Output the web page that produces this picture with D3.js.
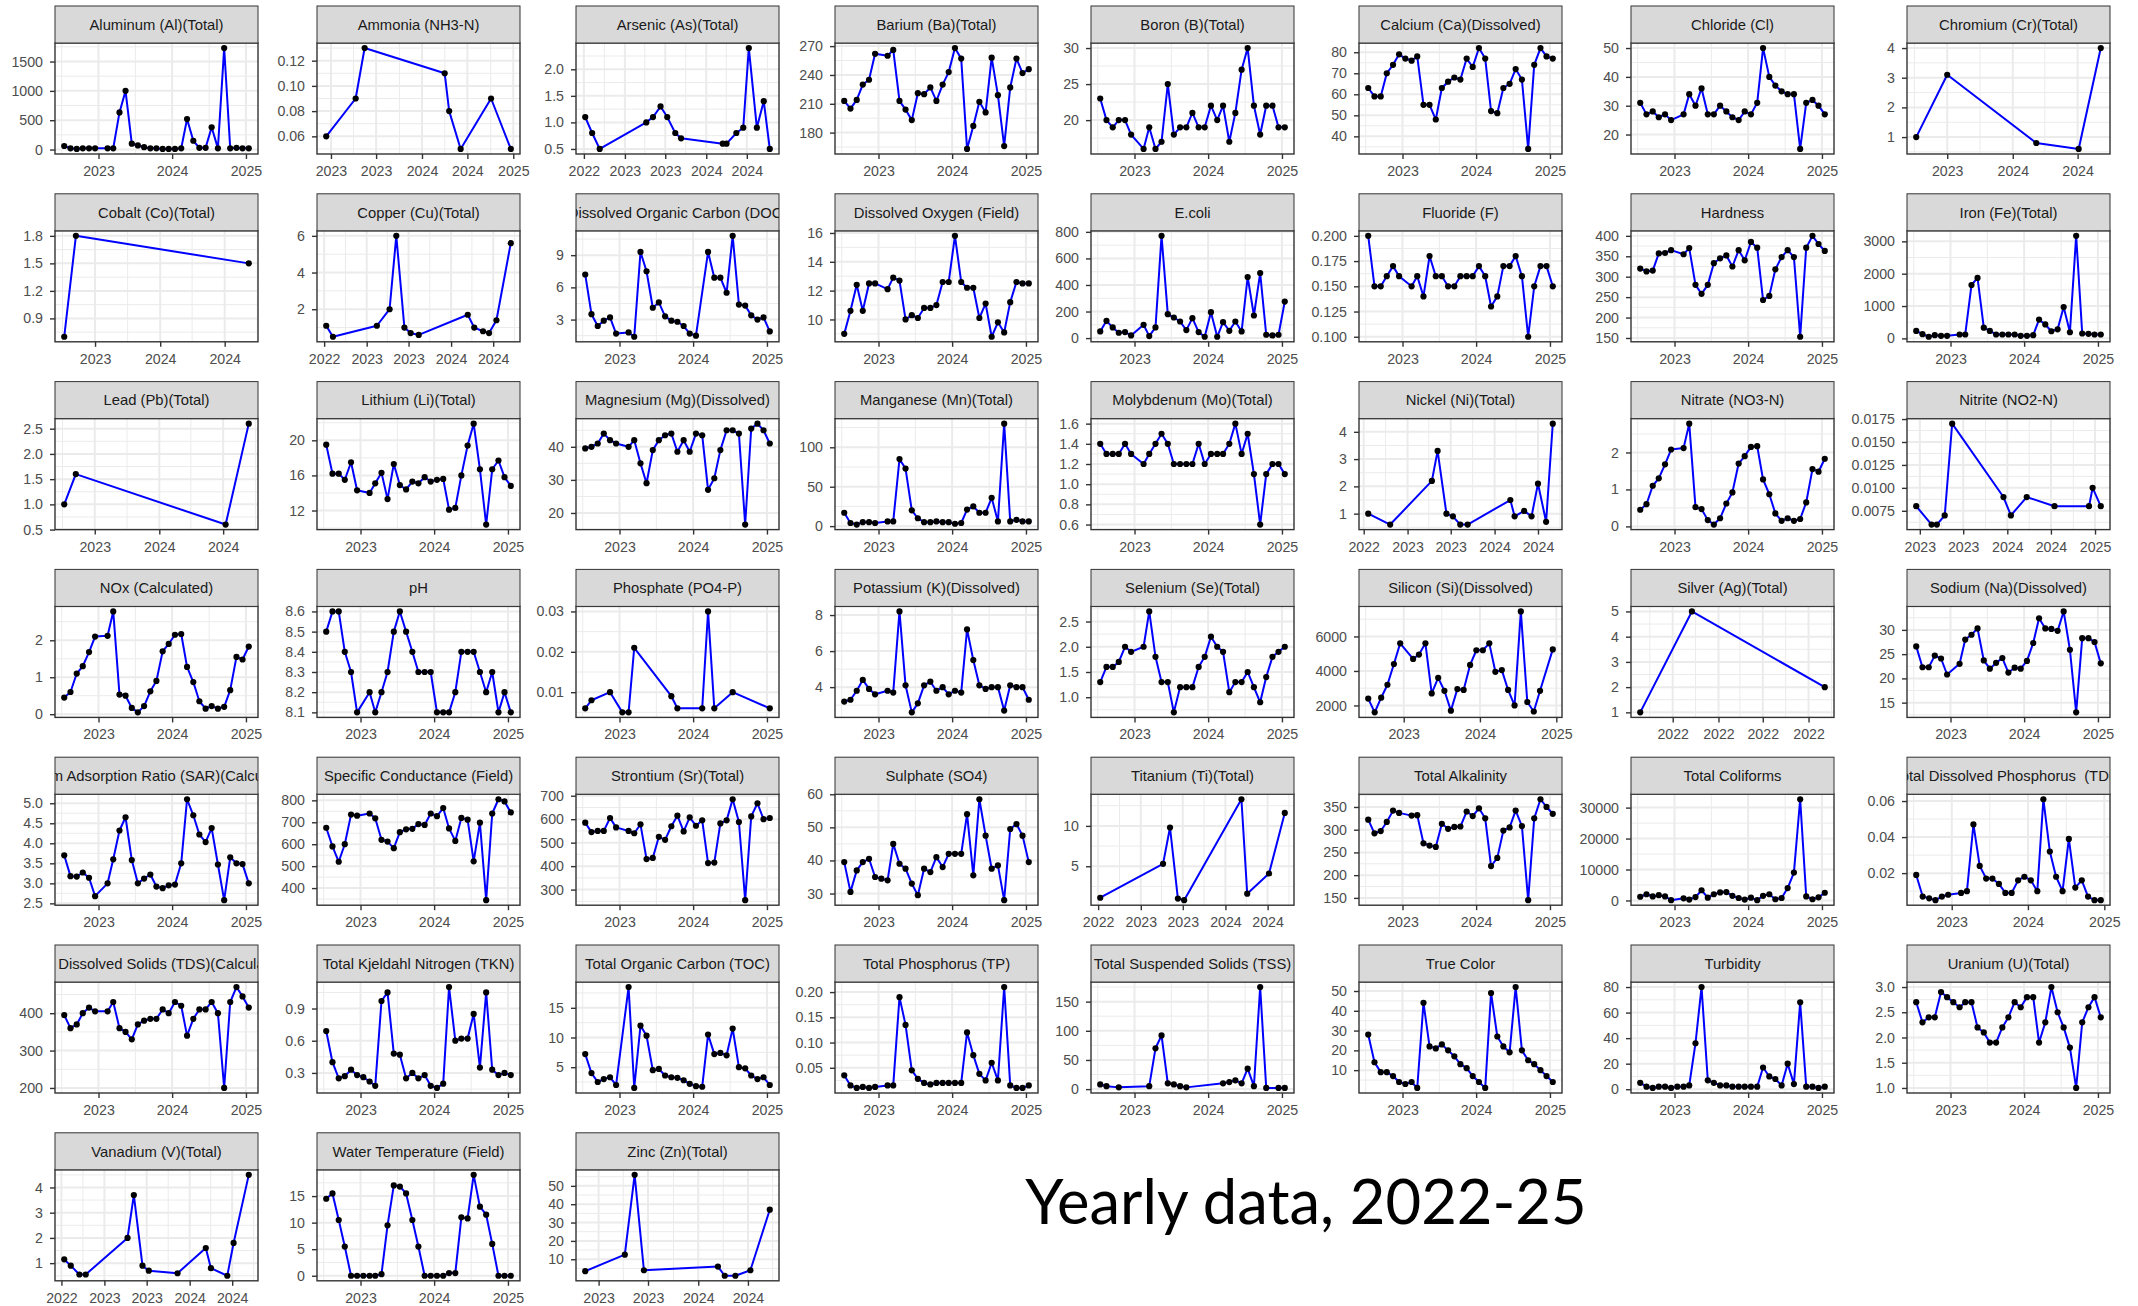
<!DOCTYPE html>
<html>
<head>
<meta charset="utf-8">
<script src="https://cdn.jsdelivr.net/npm/d3@7"></script>
<style>
  body { margin: 0; background: #fff; }
  svg { display: block; }
  .strip-text { white-space: pre; }
</style>
</head>
<body>
<svg id="chart" width="2138" height="1306"></svg>
<script>
// ---- sampling months (mid-month) shared by the regularly sampled series ----
const sampleMonths = ['2022-07','2022-08','2022-09','2022-10','2022-11','2022-12',
  '2023-01','2023-02','2023-03','2023-04','2023-05','2023-06','2023-07','2023-08','2023-09','2023-10','2023-11','2023-12',
  '2024-01','2024-02','2024-03','2024-04','2024-05','2024-06','2024-07','2024-08','2024-09','2024-10','2024-11','2024-12',
  '2025-01'];

// ---- monthly series (null = no sample that month) ----
const aluminum = [60,20,10,20,20,20,null,20,20,633,1000,100,70,40,20,20,10,10,10,20,520,150,30,30,380,20,1730,20,30,20,20];
const barium = [213,205,214,230,235,262,null,260,266,213,204,193,221,220,227,213,230,243,268,257,163,187,212,201,258,219,166,227,257,242,246];
const boron = [23,20,19,20,20,18,null,16,19,16,17,25,18,19,19,21,19,19,22,20,22,17,21,27,30,22,18,22,22,19,19];
const calcium = [63,59,59,70,74,79,77,76,78,55,55,48,63,66,68,67,77,73,82,77,52,51,63,65,72,67,34,74,82,78,77];
const chloride = [31,27,28,26,27,25,null,27,34,30,36,27,27,30,28,26,25,28,27,31,50,40,37,35,34,34,15,31,32,30,27];
const doc = [7.2,3.5,2.4,2.9,3.2,1.7,null,1.8,1.4,9.3,7.5,4.1,4.6,3.3,2.9,2.8,2.4,1.7,1.5,null,9.3,6.9,6.9,5.5,10.8,4.4,4.3,3.4,3.0,3.2,1.9];
const oxygen = [9.0,10.6,12.4,10.6,12.5,12.5,null,12.1,12.9,12.7,10.0,10.3,10.1,10.8,10.8,11.0,12.6,12.6,15.8,12.6,12.2,12.2,10.1,11.1,8.8,9.8,9.1,11.2,12.6,12.5,12.5];
const ecoli = [50,130,80,40,45,20,null,100,15,80,770,180,155,125,60,150,45,10,195,10,120,55,125,50,460,170,490,25,20,25,275];
const fluoride = [0.20,0.15,0.15,0.16,0.17,0.16,null,0.15,0.16,0.14,0.18,0.16,0.16,0.15,0.15,0.16,0.16,0.16,0.17,0.16,0.13,0.14,0.17,0.17,0.18,0.16,0.10,0.15,0.17,0.17,0.15];
const hardness = [320,313,315,357,358,365,null,355,370,280,258,280,333,345,352,325,365,340,385,371,243,253,318,348,365,348,153,371,400,380,363];
const iron = [230,130,50,100,80,80,null,120,120,1650,1870,330,230,120,120,120,120,80,80,100,580,430,220,280,970,190,3170,150,140,120,120];
const lithium = [19.5,16.2,16.2,15.5,17.5,14.3,null,14.0,15.1,16.3,13.3,17.3,14.9,14.4,15.3,15.1,15.8,15.3,15.5,15.6,12.1,12.3,16.0,19.4,21.9,16.7,10.4,16.7,17.7,15.8,14.8];
const magnesium = [39.5,40,41,44,42,41,null,40,42,35,29,39,42,43.5,44,38.5,42,38.5,44,43.5,27,30.5,39,45,45,44,16.5,45.5,47,45,41];
const manganese = [17,4,2,5,5,4,null,6,6,85,73,20,10,5,5,6,5,5,3,4,21,25,17,17,36,6,130,6,8,6,6];
const molybdenum = [1.4,1.3,1.3,1.3,1.4,1.3,null,1.2,1.3,1.4,1.5,1.4,1.2,1.2,1.2,1.2,1.4,1.2,1.3,1.3,1.3,1.4,1.6,1.3,1.5,1.1,0.6,1.1,1.2,1.2,1.1];
const nitrate = [0.45,0.6,1.1,1.3,1.68,2.08,null,2.12,2.78,0.52,0.47,0.17,0.05,0.22,0.62,0.92,1.7,1.9,2.15,2.17,1.27,0.87,0.35,0.15,0.22,0.15,0.2,0.65,1.55,1.48,1.83];
const nox = [0.45,0.6,1.1,1.3,1.68,2.1,null,2.12,2.78,0.53,0.5,0.17,0.05,0.22,0.62,0.9,1.7,1.9,2.15,2.17,1.28,0.87,0.35,0.15,0.22,0.15,0.2,0.65,1.55,1.48,1.83];
const ph = [8.5,8.6,8.6,8.4,8.3,8.1,null,8.2,8.1,8.2,8.3,8.5,8.6,8.5,8.4,8.3,8.3,8.3,8.1,8.1,8.1,8.2,8.4,8.4,8.4,8.3,8.2,8.3,8.1,8.2,8.1];
const phosphate = [0.006,0.008,null,null,0.010,null,0.005,0.005,0.021,null,null,null,null,null,0.009,0.006,null,null,null,0.006,0.030,0.006,null,null,0.010,null,null,null,null,null,0.006];
const potassium = [3.2,3.3,3.8,4.4,3.9,3.6,null,3.8,3.7,8.2,4.1,2.6,3.1,4.1,4.3,3.8,4.0,3.6,3.8,3.7,7.2,5.5,4.1,3.9,4.0,4.0,2.7,4.1,4.0,4.0,3.3];
const selenium = [1.3,1.6,1.6,1.7,2.0,1.9,null,2.0,2.7,1.8,1.3,1.3,0.7,1.2,1.2,1.2,1.6,1.8,2.2,2.0,1.9,1.1,1.3,1.3,1.5,1.2,0.9,1.4,1.8,1.9,2.0];
const silicon = [2400,1600,2450,3200,4400,5600,null,4700,4950,5600,2700,3600,2850,1700,2950,2900,4350,5200,5200,5600,3950,4050,2900,2000,7450,2200,1650,2850,null,5250,null];
const sodium = [26.6,22.3,22.3,24.7,24.1,20.8,null,23.0,28.0,29.0,30.3,23.7,22.0,23.2,24.2,21.2,22.2,22.0,23.6,27.3,32.4,30.3,30.2,29.8,33.8,25.9,13.0,28.3,28.3,27.5,23.1];
const sar = [3.7,3.18,3.17,3.27,3.14,2.68,null,3.0,3.6,4.32,4.65,3.58,3.0,3.12,3.22,2.92,2.88,2.95,2.97,3.5,5.1,4.7,4.22,4.03,4.38,3.47,2.58,3.65,3.5,3.48,3.0];
const conductance = [675,590,520,600,735,730,null,740,718,620,612,582,655,668,670,692,688,740,728,765,672,615,720,712,522,698,345,740,805,795,745];
const strontium = [585,545,550,550,605,565,null,550,540,578,430,435,525,512,570,615,548,608,572,595,413,415,582,595,685,588,255,612,668,600,605];
const sulphate = [39.5,30.5,37,39.5,40.5,35,34.5,34,45,39,37.5,33,29.5,37.5,36.5,41,38,42,42,42,54,35.5,58.5,47.5,37.5,38.5,28,49.5,51,47.5,39.5];
const alkalinity = [322,292,297,317,342,337,null,331,332,270,265,262,313,302,306,307,340,330,347,325,220,238,298,305,342,308,145,325,367,350,335];
const coliforms = [1200,2000,1300,1700,1300,100,null,700,300,1100,3300,900,2000,2600,2700,1500,800,300,900,100,1500,2000,400,800,4000,9000,32700,1300,400,1000,2500];
const tdp = [0.019,0.007,0.006,0.005,0.007,0.008,null,0.009,0.010,0.047,0.024,0.017,0.017,0.014,0.009,0.009,0.016,0.018,0.016,0.010,0.061,0.032,0.018,0.010,0.039,0.012,0.016,0.007,0.005,0.005,null];
const tds = [395,360,370,400,415,405,null,405,430,360,350,330,370,380,385,385,410,400,430,420,340,385,410,410,430,400,200,430,470,445,415];
const tkn = [0.69,0.4,0.25,0.27,0.33,0.28,0.26,0.22,0.18,0.97,1.05,0.48,0.47,0.25,0.3,0.25,0.28,0.18,0.16,0.2,1.1,0.6,0.62,0.62,0.85,0.35,1.05,0.33,0.28,0.3,0.28];
const toc = [7.2,4.0,2.5,3.0,3.3,2.0,null,18.5,1.5,12.0,10.3,4.5,4.7,3.6,3.3,3.2,2.8,2.2,1.8,1.7,10.5,7.2,7.4,7.0,11.5,5.0,4.8,3.6,3.0,3.3,2.0];
const tp = [0.035,0.015,0.01,0.012,0.01,0.012,null,0.015,0.015,0.19,0.135,0.045,0.028,0.02,0.017,0.02,0.02,0.02,0.02,0.02,0.12,0.075,0.038,0.025,0.06,0.025,0.21,0.015,0.01,0.01,0.015];
const tss = [8,5,null,3,null,null,null,null,5,70,92,10,8,5,3,null,null,null,null,null,10,12,15,10,35,5,175,2,null,2,2];
const trueColor = [28,14,9,9,7,4,3,4,1,44,22,21,23,20,17,13,11,7,4,1,49,27,22,19,52,20,15,13,10,7,4];
const turbidity = [5,2,1,2,2,1,2,2,3,36,80,7,5,3,3,2,2,2,2,2,17,10,8,3,20,4,68,2,2,1,2];
const uranium = [2.7,2.3,2.4,2.4,2.9,2.8,2.7,2.6,2.7,2.7,2.2,2.1,1.9,1.9,2.2,2.4,2.7,2.6,2.8,2.8,1.9,2.3,3.0,2.5,2.2,1.8,1.0,2.3,2.6,2.8,2.4];
const waterTemp = [14.5,15.5,10.5,5.5,0,0,0,0,0,0.3,9.5,17,16.8,15.5,10.5,5.5,0,0,0,0,0.5,0.5,11,10.8,19,13,11.5,6,0,0,0];

// ---- irregularly sampled series (own dates) ----
const ammoniaDates = ['2022-12-13','2023-04-10','2023-05-16','2024-04-01','2024-04-19','2024-06-04','2024-10-04','2024-12-22'];
const ammonia = [0.06,0.09,0.13,0.11,0.08,0.05,0.09,0.05];
const arsenicDates = ['2022-07-07','2022-08-07','2022-09-10','2023-04-07','2023-05-07','2023-06-10','2023-07-10','2023-08-15','2023-09-10','2024-03-15','2024-04-01','2024-05-15','2024-06-15','2024-07-10','2024-08-15','2024-09-15','2024-10-12'];
const arsenic = [1.1,0.8,0.5,1.0,1.1,1.3,1.1,0.8,0.7,0.6,0.6,0.8,0.9,2.4,0.9,1.4,0.5];
const chromiumDates = ['2023-04-05','2023-07-01','2024-03-07','2024-07-04','2024-09-04'];
const chromium = [1.0,3.1,0.8,0.6,4.0];
const cobaltDates = ['2023-04-05','2023-05-08','2024-09-07'];
const cobalt = [0.7,1.8,1.5];
const copperDates = ['2022-07-10','2022-08-08','2023-02-14','2023-04-10','2023-05-09','2023-06-13','2023-07-10','2023-08-14','2024-03-13','2024-04-10','2024-05-18','2024-06-13','2024-07-15','2024-09-15'];
const copper = [1.1,0.5,1.1,2.0,6.0,1.0,0.7,0.6,1.7,1.0,0.8,0.7,1.4,5.6];
const leadDates = ['2023-04-05','2023-05-08','2024-07-08','2024-09-12'];
const lead = [1.0,1.6,0.6,2.6];
const nickelDates = ['2022-07-20','2022-10-20','2023-04-13','2023-05-07','2023-06-13','2023-07-10','2023-08-10','2023-09-10','2024-03-07','2024-03-25','2024-05-04','2024-06-04','2024-07-01','2024-08-04','2024-09-01'];
const nickel = [1.0,0.6,2.2,3.3,1.0,0.9,0.6,0.6,1.5,0.9,1.1,0.9,2.1,0.7,4.3];
const nitriteDates = ['2022-12-17','2023-02-19','2023-03-13','2023-04-15','2023-05-16','2023-12-16','2024-01-16','2024-03-22','2024-07-16','2024-12-07','2024-12-22','2025-01-25'];
const nitrite = [0.008,0.006,0.006,0.007,0.017,0.009,0.007,0.009,0.008,0.008,0.010,0.008];
const silverDates = ['2022-07-10','2022-08-14','2022-11-12'];
const silver = [1,5,2];
const titaniumDates = ['2022-07-10','2023-04-07','2023-05-07','2023-06-10','2023-07-07','2024-03-10','2024-04-04','2024-07-07','2024-09-13'];
const titanium = [1.1,5.3,9.8,1.0,0.8,13.3,1.6,4.1,11.6];
const vanadiumDates = ['2022-07-13','2022-08-10','2022-09-16','2022-10-13','2023-04-10','2023-05-07','2023-06-13','2023-07-10','2023-11-10','2024-03-10','2024-04-01','2024-06-10','2024-07-07','2024-09-10'];
const vanadium = [1.15,0.9,0.55,0.55,2.0,3.7,0.9,0.7,0.6,1.6,0.8,0.5,1.8,4.5];
const zincDates = ['2022-11-13','2023-04-07','2023-05-13','2023-06-16','2024-03-13','2024-04-07','2024-05-16','2024-07-10','2024-09-19'];
const zinc = [3.5,12.5,56,4,6,1,1,4,37];

// ---- y tick labels per panel ----
const aluminumTicks = ['0','500','1000','1500'];
const ammoniaTicks = ['0.06','0.08','0.10','0.12'];
const arsenicTicks = ['0.5','1.0','1.5','2.0'];
const bariumTicks = ['180','210','240','270'];
const boronTicks = ['20','25','30'];
const calciumTicks = ['40','50','60','70','80'];
const chlorideTicks = ['20','30','40','50'];
const chromiumTicks = ['1','2','3','4'];
const cobaltTicks = ['0.9','1.2','1.5','1.8'];
const copperTicks = ['2','4','6'];
const docTicks = ['3','6','9'];
const oxygenTicks = ['10','12','14','16'];
const ecoliTicks = ['0','200','400','600','800'];
const fluorideTicks = ['0.100','0.125','0.150','0.175','0.200'];
const hardnessTicks = ['150','200','250','300','350','400'];
const ironTicks = ['0','1000','2000','3000'];
const leadTicks = ['0.5','1.0','1.5','2.0','2.5'];
const lithiumTicks = ['12','16','20'];
const magnesiumTicks = ['20','30','40'];
const manganeseTicks = ['0','50','100'];
const molybdenumTicks = ['0.6','0.8','1.0','1.2','1.4','1.6'];
const nickelTicks = ['1','2','3','4'];
const nitrateTicks = ['0','1','2'];
const nitriteTicks = ['0.0075','0.0100','0.0125','0.0150','0.0175'];
const noxTicks = ['0','1','2'];
const phTicks = ['8.1','8.2','8.3','8.4','8.5','8.6'];
const phosphateTicks = ['0.01','0.02','0.03'];
const potassiumTicks = ['4','6','8'];
const seleniumTicks = ['1.0','1.5','2.0','2.5'];
const siliconTicks = ['2000','4000','6000'];
const silverTicks = ['1','2','3','4','5'];
const sodiumTicks = ['15','20','25','30'];
const sarTicks = ['2.5','3.0','3.5','4.0','4.5','5.0'];
const conductanceTicks = ['400','500','600','700','800'];
const strontiumTicks = ['300','400','500','600','700'];
const sulphateTicks = ['30','40','50','60'];
const titaniumTicks = ['5','10'];
const alkalinityTicks = ['150','200','250','300','350'];
const coliformsTicks = ['0','10000','20000','30000'];
const tdpTicks = ['0.02','0.04','0.06'];
const tdsTicks = ['200','300','400'];
const tknTicks = ['0.3','0.6','0.9'];
const tocTicks = ['5','10','15'];
const tpTicks = ['0.05','0.10','0.15','0.20'];
const tssTicks = ['0','50','100','150'];
const trueColorTicks = ['10','20','30','40','50'];
const turbidityTicks = ['0','20','40','60','80'];
const uraniumTicks = ['1.0','1.5','2.0','2.5','3.0'];
const vanadiumTicks = ['1','2','3','4'];
const waterTempTicks = ['0','5','10','15'];
const zincTicks = ['10','20','30','40','50'];

const panelNames = [
  'Aluminum (Al)(Total)','Ammonia (NH3-N)','Arsenic (As)(Total)','Barium (Ba)(Total)','Boron (B)(Total)','Calcium (Ca)(Dissolved)','Chloride (Cl)','Chromium (Cr)(Total)',
  'Cobalt (Co)(Total)','Copper (Cu)(Total)','Dissolved Organic Carbon (DOC)','Dissolved Oxygen (Field)','E.coli','Fluoride (F)','Hardness','Iron (Fe)(Total)',
  'Lead (Pb)(Total)','Lithium (Li)(Total)','Magnesium (Mg)(Dissolved)','Manganese (Mn)(Total)','Molybdenum (Mo)(Total)','Nickel (Ni)(Total)','Nitrate (NO3-N)','Nitrite (NO2-N)',
  'NOx (Calculated)','pH','Phosphate (PO4-P)','Potassium (K)(Dissolved)','Selenium (Se)(Total)','Silicon (Si)(Dissolved)','Silver (Ag)(Total)','Sodium (Na)(Dissolved)',
  'Sodium Adsorption Ratio (SAR)(Calculated)','Specific Conductance (Field)','Strontium (Sr)(Total)','Sulphate (SO4)','Titanium (Ti)(Total)','Total Alkalinity','Total Coliforms','Total Dissolved Phosphorus  (TDP)',
  'Total Dissolved Solids (TDS)(Calculated)','Total Kjeldahl Nitrogen (TKN)','Total Organic Carbon (TOC)','Total Phosphorus (TP)','Total Suspended Solids (TSS)','True Color','Turbidity','Uranium (U)(Total)',
  'Vanadium (V)(Total)','Water Temperature (Field)','Zinc (Zn)(Total)'
];

// panel table built from the arrays above (step: x break spacing)
const panels = [
  {v: aluminum, t: aluminumTicks}, {v: ammonia, d: ammoniaDates, t: ammoniaTicks, step: 'half'},
  {v: arsenic, d: arsenicDates, t: arsenicTicks, step: 'half'}, {v: barium, t: bariumTicks},
  {v: boron, t: boronTicks}, {v: calcium, t: calciumTicks}, {v: chloride, t: chlorideTicks},
  {v: chromium, d: chromiumDates, t: chromiumTicks, step: 'half'},
  {v: cobalt, d: cobaltDates, t: cobaltTicks, step: 'half'}, {v: copper, d: copperDates, t: copperTicks, step: 'half'},
  {v: doc, t: docTicks}, {v: oxygen, t: oxygenTicks}, {v: ecoli, t: ecoliTicks}, {v: fluoride, t: fluorideTicks},
  {v: hardness, t: hardnessTicks}, {v: iron, t: ironTicks},
  {v: lead, d: leadDates, t: leadTicks, step: 'half'}, {v: lithium, t: lithiumTicks}, {v: magnesium, t: magnesiumTicks},
  {v: manganese, t: manganeseTicks}, {v: molybdenum, t: molybdenumTicks}, {v: nickel, d: nickelDates, t: nickelTicks, step: 'half'},
  {v: nitrate, t: nitrateTicks}, {v: nitrite, d: nitriteDates, t: nitriteTicks, step: 'half'},
  {v: nox, t: noxTicks}, {v: ph, t: phTicks}, {v: phosphate, t: phosphateTicks}, {v: potassium, t: potassiumTicks},
  {v: selenium, t: seleniumTicks}, {v: silicon, t: siliconTicks}, {v: silver, d: silverDates, t: silverTicks, step: 'month'},
  {v: sodium, t: sodiumTicks},
  {v: sar, t: sarTicks}, {v: conductance, t: conductanceTicks}, {v: strontium, t: strontiumTicks}, {v: sulphate, t: sulphateTicks},
  {v: titanium, d: titaniumDates, t: titaniumTicks, step: 'half'}, {v: alkalinity, t: alkalinityTicks},
  {v: coliforms, t: coliformsTicks}, {v: tdp, t: tdpTicks},
  {v: tds, t: tdsTicks}, {v: tkn, t: tknTicks}, {v: toc, t: tocTicks}, {v: tp, t: tpTicks}, {v: tss, t: tssTicks},
  {v: trueColor, t: trueColorTicks}, {v: turbidity, t: turbidityTicks}, {v: uranium, t: uraniumTicks},
  {v: vanadium, d: vanadiumDates, t: vanadiumTicks, step: 'half'}, {v: waterTemp, t: waterTempTicks},
  {v: zinc, d: zincDates, t: zincTicks, step: 'half'}
];

// ---- layout ----
const colLeft = [55, 317, 576, 835, 1091, 1359, 1631, 1907];
const panelW = 203, stripH = 37, plotH = 111, rowPitch = 187.8, top0 = 6;
const FONT = '"Liberation Sans", Arial, Helvetica, sans-serif';

const svg = d3.select('#chart');
const parseDay = d3.timeParse('%Y-%m-%d');
const sampleDates = sampleMonths.map(m => parseDay(m + '-15'));
const fmtYear = d3.timeFormat('%Y');

function minorBetween(major, lo, hi) {
  if (major.length < 2) return [];
  const step = +major[1] - +major[0];
  const out = major.map(m => +m - step / 2);
  out.push(+major[major.length - 1] + step / 2);
  return out.filter(v => v >= lo && v <= hi);
}

panels.forEach((p, i) => {
  const col = i % 8, row = Math.floor(i / 8);
  const g = svg.append('g').attr('transform', `translate(${colLeft[col]},${top0 + row * rowPitch})`);
  const dates = p.d ? p.d.map(parseDay) : sampleDates;
  const pts = p.v.map((v, k) => ({date: dates[k], value: v})).filter(d => d.value != null);

  const xe = d3.extent(pts, d => d.date);
  const xp = (xe[1] - xe[0]) * 0.05;
  const x = d3.scaleTime().domain([new Date(+xe[0] - xp), new Date(+xe[1] + xp)]).range([0, panelW]);
  const ye = d3.extent(pts, d => d.value);
  const yp = (ye[1] - ye[0]) * 0.05;
  const y = d3.scaleLinear().domain([ye[0] - yp, ye[1] + yp]).range([plotH, 0]);

  const interval = p.step === 'half' ? d3.timeMonth.every(6) : p.step === 'month' ? d3.timeMonth.every(1) : d3.timeYear.every(1);
  const xMajor = x.ticks(interval);
  const xd = x.domain();
  const xMinor = minorBetween(xMajor, +xd[0], +xd[1]).map(v => new Date(v));
  const yMajor = p.t.map(Number);
  const yd = y.domain();
  const yMinor = minorBetween(yMajor, yd[0], yd[1]);

  const plot = g.append('g').attr('transform', `translate(0,${stripH})`);
  plot.append('rect').attr('width', panelW).attr('height', plotH).attr('fill', '#fff');

  // grid
  const grid = plot.append('g').attr('fill', 'none').attr('stroke', '#ebebeb');
  grid.selectAll('.xm').data(xMinor).join('line')
    .attr('x1', d => x(d)).attr('x2', d => x(d)).attr('y1', 0).attr('y2', plotH).attr('stroke-width', 1);
  grid.selectAll('.ym').data(yMinor).join('line')
    .attr('y1', d => y(d)).attr('y2', d => y(d)).attr('x1', 0).attr('x2', panelW).attr('stroke-width', 1);
  grid.selectAll('.xM').data(xMajor).join('line')
    .attr('x1', d => x(d)).attr('x2', d => x(d)).attr('y1', 0).attr('y2', plotH).attr('stroke-width', 2);
  grid.selectAll('.yM').data(yMajor).join('line')
    .attr('y1', d => y(d)).attr('y2', d => y(d)).attr('x1', 0).attr('x2', panelW).attr('stroke-width', 2);

  // data
  plot.append('path').datum(pts)
    .attr('fill', 'none').attr('stroke', '#0000ff').attr('stroke-width', 2).attr('stroke-linejoin', 'round')
    .attr('d', d3.line().x(d => x(d.date)).y(d => y(d.value)));
  plot.selectAll('circle').data(pts).join('circle')
    .attr('cx', d => x(d.date)).attr('cy', d => y(d.value)).attr('r', 3.1).attr('fill', '#000');

  plot.append('rect').attr('width', panelW).attr('height', plotH)
    .attr('fill', 'none').attr('stroke', '#333').attr('stroke-width', 1.4);

  // axes
  const xAxis = plot.append('g').attr('transform', `translate(0,${plotH})`)
    .call(d3.axisBottom(x).tickValues(xMajor).tickFormat(fmtYear).tickSize(5).tickPadding(7));
  const yAxis = plot.append('g')
    .call(d3.axisLeft(y).tickValues(yMajor).tickFormat((d, k) => p.t[k]).tickSize(5).tickPadding(7));
  [xAxis, yAxis].forEach(a => {
    a.select('.domain').remove();
    a.selectAll('.tick line').attr('stroke', '#333').attr('stroke-width', 1.4);
    a.selectAll('.tick text').attr('fill', '#4d4d4d').style('font-family', FONT).style('font-size', '14.2px');
  });

  // strip
  const clipId = 'strip-clip-' + i;
  g.append('clipPath').attr('id', clipId).append('rect').attr('width', panelW).attr('height', stripH);
  g.append('rect').attr('width', panelW).attr('height', stripH)
    .attr('fill', '#d9d9d9').attr('stroke', '#333').attr('stroke-width', 1);
  g.append('text').attr('class', 'strip-text').attr('clip-path', `url(#${clipId})`)
    .attr('x', panelW / 2).attr('y', stripH / 2).attr('dy', '0.36em').attr('text-anchor', 'middle')
    .style('font-family', FONT).style('font-size', '14.8px').attr('fill', '#1a1a1a')
    .text(panelNames[i]);
});

svg.append('text')
  .attr('x', 1306).attr('y', 1224).attr('text-anchor', 'middle')
  .style('font-family', 'Lato, "Open Sans", sans-serif').style('font-size', '61.5px').attr('fill', '#000')
  .text('Yearly data, 2022-25');
</script>
</body>
</html>
